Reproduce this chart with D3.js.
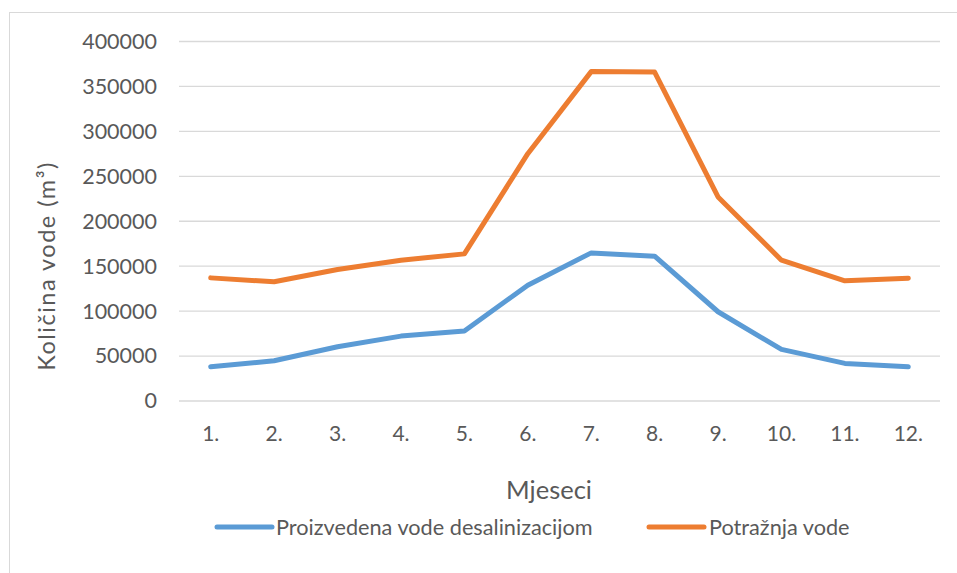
<!DOCTYPE html>
<html>
<head>
<meta charset="utf-8">
<script src="https://cdn.jsdelivr.net/npm/d3@7/dist/d3.min.js"></script>
<style>
  html, body { margin: 0; padding: 0; background: #fff; }
  svg { display: block; }
  text { font-family: Lato, "Open Sans", sans-serif; fill: #595959; }
</style>
</head>
<body>
<svg id="chart" width="957" height="573"></svg>
<script>
const months = ["1.", "2.", "3.", "4.", "5.", "6.", "7.", "8.", "9.", "10.", "11.", "12."];
const produced = [38100, 44800, 60400, 72200, 77800, 128900, 164800, 161100, 99300, 57400, 41800, 38100];
const demand = [137000, 132600, 146300, 156700, 163700, 275200, 366500, 366000, 227000, 156700, 133700, 136700];
const yTicks = [0, 50000, 100000, 150000, 200000, 250000, 300000, 350000, 400000];
const seriesNames = ["Proizvedena vode desalinizacijom", "Potražnja vode"];
const seriesColors = ["#5B9BD5", "#ED7D31"];
const xTitle = "Mjeseci";
const yTitle = "Količina vode (m³)";

const svg = d3.select("#chart");
const plot = { left: 179, right: 940, top: 41.5, bottom: 401 };

// chart area border (cropped at right/bottom)
svg.append("rect")
  .attr("x", 9.5).attr("y", 12.5)
  .attr("width", 1200).attr("height", 1200)
  .attr("fill", "none").attr("stroke", "#D9D9D9").attr("stroke-width", 1);

const x = d3.scaleBand().domain(months).range([plot.left, plot.right]);
const y = d3.scaleLinear().domain([0, 400000]).range([plot.bottom, plot.top]);

// gridlines
svg.append("g")
  .selectAll("line")
  .data(yTicks)
  .join("line")
  .attr("x1", plot.left).attr("x2", plot.right)
  .attr("y1", d => y(d)).attr("y2", d => y(d))
  .attr("stroke", "#D9D9D9").attr("stroke-width", 1.3);

// y axis labels
const yAxis = d3.axisLeft(y).tickValues(yTicks).tickSize(0).tickPadding(0).tickFormat(d3.format("d"));
const gy = svg.append("g").attr("transform", `translate(${157},0)`).call(yAxis);
gy.select(".domain").remove();
gy.selectAll("text").attr("font-size", 21.5).attr("fill", "#595959")
  .style("font-family", "Lato, sans-serif");

// x axis labels
const xAxis = d3.axisBottom(x).tickSize(0).tickPadding(0);
const gx = svg.append("g").attr("transform", `translate(0,${plot.bottom})`).call(xAxis);
gx.select(".domain").remove();
gx.selectAll("text").attr("font-size", 21).attr("fill", "#595959").attr("dy", "0").attr("y", 39.5)
  .style("font-family", "Lato, sans-serif");

// lines
const line = d3.line()
  .x((d, i) => x(months[i]) + x.bandwidth() / 2)
  .y(d => y(d));

[produced, demand].forEach((s, k) => {
  svg.append("path")
    .datum(s)
    .attr("d", line)
    .attr("fill", "none")
    .attr("stroke", seriesColors[k])
    .attr("stroke-width", 5)
    .attr("stroke-linejoin", "round")
    .attr("stroke-linecap", "round");
});

// axis titles
svg.append("text")
  .attr("x", 549).attr("y", 499)
  .attr("text-anchor", "middle")
  .attr("font-size", 25.5)
  .text(xTitle);

svg.append("text")
  .attr("transform", `translate(55,266) rotate(-90)`)
  .attr("text-anchor", "middle")
  .attr("font-size", 23.5)
  .attr("letter-spacing", 1.5)
  .text(yTitle);

// legend
const legendItems = [
  { name: seriesNames[0], color: seriesColors[0], x0: 217, x1: 272, tx: 276 },
  { name: seriesNames[1], color: seriesColors[1], x0: 649, x1: 704, tx: 709 }
];
const lg = svg.append("g");
legendItems.forEach(it => {
  lg.append("line")
    .attr("x1", it.x0).attr("x2", it.x1)
    .attr("y1", 527).attr("y2", 527)
    .attr("stroke", it.color).attr("stroke-width", 5)
    .attr("stroke-linecap", "round");
  lg.append("text")
    .attr("x", it.tx).attr("y", 534.5)
    .attr("font-size", 21.7)
    .text(it.name);
});
</script>
</body>
</html>
